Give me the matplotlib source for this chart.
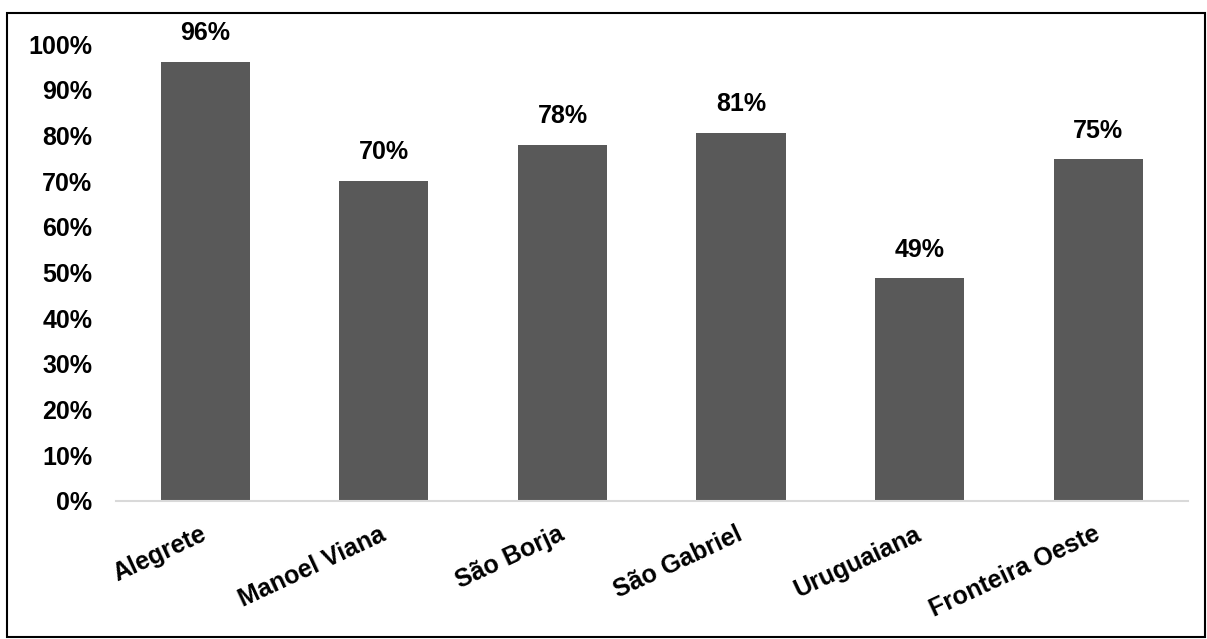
import matplotlib.pyplot as plt
from matplotlib.patches import Rectangle
from matplotlib.ticker import PercentFormatter

plt.rcParams['font.family'] = ['Liberation Sans', 'DejaVu Sans']

cities = ["Alegrete", "Manoel Viana", "São Borja", "São Gabriel", "Uruguaiana", "Fronteira Oeste"]
values = [0.961, 0.700, 0.779, 0.806, 0.487, 0.748]

fig = plt.figure(figsize=(12.07, 6.39), dpi=100)
ax = fig.add_axes([0.096, 0.216, 0.888, 0.715])

x = range(len(cities))
bars = ax.bar(x, values, width=0.5, color='#595959')

for xi, v in zip(x, values):
    ax.annotate(f"{round(v * 100):.0f}%", (xi, v), xytext=(0, 12), textcoords='offset points',
                ha='center', va='bottom', fontsize=18, fontweight='bold')

ax.set_xlim(-0.5, len(cities) - 0.5)
ax.set_ylim(0, 1)
ax.set_yticks([i / 10 for i in range(11)])
ax.yaxis.set_major_formatter(PercentFormatter(1.0, decimals=0))
ax.tick_params(axis='y', length=0, pad=17, labelsize=18)
ax.tick_params(axis='x', length=0, pad=23)
for lab in ax.get_yticklabels():
    lab.set_fontweight('bold')

ax.set_xticks(list(x))
ax.set_xticklabels(cities, rotation=25, ha='right', va='center', rotation_mode='anchor',
                   fontsize=18, fontweight='bold')

for s in ['left', 'right', 'top']:
    ax.spines[s].set_visible(False)
ax.spines['bottom'].set_color('#d9d9d9')
ax.spines['bottom'].set_linewidth(1.5)

fig.patches.append(Rectangle((7 / 1207, 2 / 639), 1198 / 1207, 624 / 639, transform=fig.transFigure,
                             fill=False, edgecolor='black', linewidth=1.5))

fig.savefig("out.png", dpi=100)
